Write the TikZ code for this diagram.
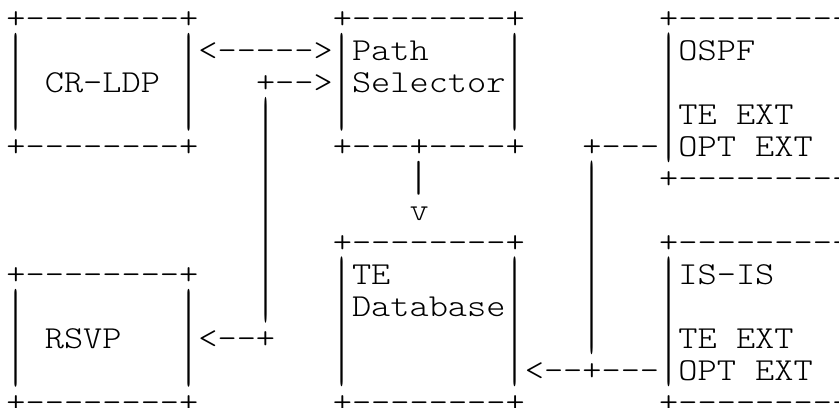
\documentclass[tikz,border=0pt]{standalone}
\usepackage{fontspec}
\usepackage{graphicx}
\setmonofont{lmmonolt10-regular.otf}[FakeStretch=1.142857]

\begin{document}
\begin{tikzpicture}[
    %---- one character cell = 6pt x 10pt ----
    x=6pt, y=-10pt,
    chr/.style  = {font=\ttfamily\fontsize{10}{10}\selectfont,
                   anchor=base west, inner sep=0pt, outer sep=0pt},
    vbar/.style = {font=\ttfamily\fontsize{12}{12}\selectfont,   % one bar stretched over a run of rows
                   anchor=north, inner sep=0pt, outer sep=0pt},
]
\path[use as bounding box] (0pt,0pt) rectangle (262.19pt,-127.5pt);

\begin{scope}[shift={(2pt,-9pt)}]
%---- CR-LDP ----
\node (crldp_top) [chr] at (0,0)  {+--------+};
\node (crldp)     [chr] at (2,2)  {CR-LDP};
\node (crldp_bot) [chr] at (0,4)  {+--------+};

%---- PATH SELECTOR ----
\node (path_top)  [chr] at (17,0) {+--------+};
\node (path)      [chr] at (18,1) {Path};
\node (selector)  [chr] at (18,2) {Selector};
\node (path_bot)  [chr] at (17,4) {+---+----+};

%---- OSPF ----
\node (ospf_top)  [chr] at (34,0) {+---------};
\node (ospf)      [chr] at (35,1) {OSPF};
\node (ospf_te)   [chr] at (35,3) {TE EXT};
\node (ospf_opt)  [chr] at (35,4) {OPT EXT};
\node (ospf_bot)  [chr] at (34,5) {+---------};

%---- TE DATABASE ----
\node (tedb_top)  [chr] at (17,7)  {+--------+};
\node (tedb)      [chr] at (18,8)  {TE};
\node (database)  [chr] at (18,9)  {Database};
\node (tedb_bot)  [chr] at (17,12) {+--------+};

%---- RSVP ----
\node (rsvp_top)  [chr] at (0,8)  {+--------+};
\node (rsvp)      [chr] at (2,10) {RSVP};
\node (rsvp_bot)  [chr] at (0,12) {+--------+};

%---- IS-IS ----
\node (isis_top)  [chr] at (34,7)  {+---------};
\node (isis)      [chr] at (35,8)  {IS-IS};
\node (isis_te)   [chr] at (35,10) {TE EXT};
\node (isis_opt)  [chr] at (35,11) {OPT EXT};
\node (isis_bot)  [chr] at (34,12) {+---------};

%---- CONNECTORS ----
\node (crldp_path) [chr] at (10,1)  {<----->};
\node (to_path)    [chr] at (13,2)  {+-->};
\node (to_rsvp)    [chr] at (10,10) {<--+};
\node (path_head)  [chr] at (21,6)  {v};
\node (from_ospf)  [chr] at (30,4)  {+---};
\node (to_tedb)    [chr] at (27,11) {<--+---};

%---- VERTICAL BARS (column / first row / last row) ----
\foreach \c/\ra/\rb in {0/1/3, 9/1/3, 17/1/3, 26/1/3, 34/1/4,
                        0/9/11, 9/9/11, 17/8/11, 26/8/11, 34/8/11,
                        13/3/9, 21/5/5, 30/5/10} {
  \pgfmathsetmacro\len{10*(\rb-\ra+1)+0.6}
  \node (bar\c_\ra) [vbar] at (\c+0.5,\ra-0.86) {\resizebox*{\width}{\len pt}{|}};
}
\end{scope}
\end{tikzpicture}
\end{document}
